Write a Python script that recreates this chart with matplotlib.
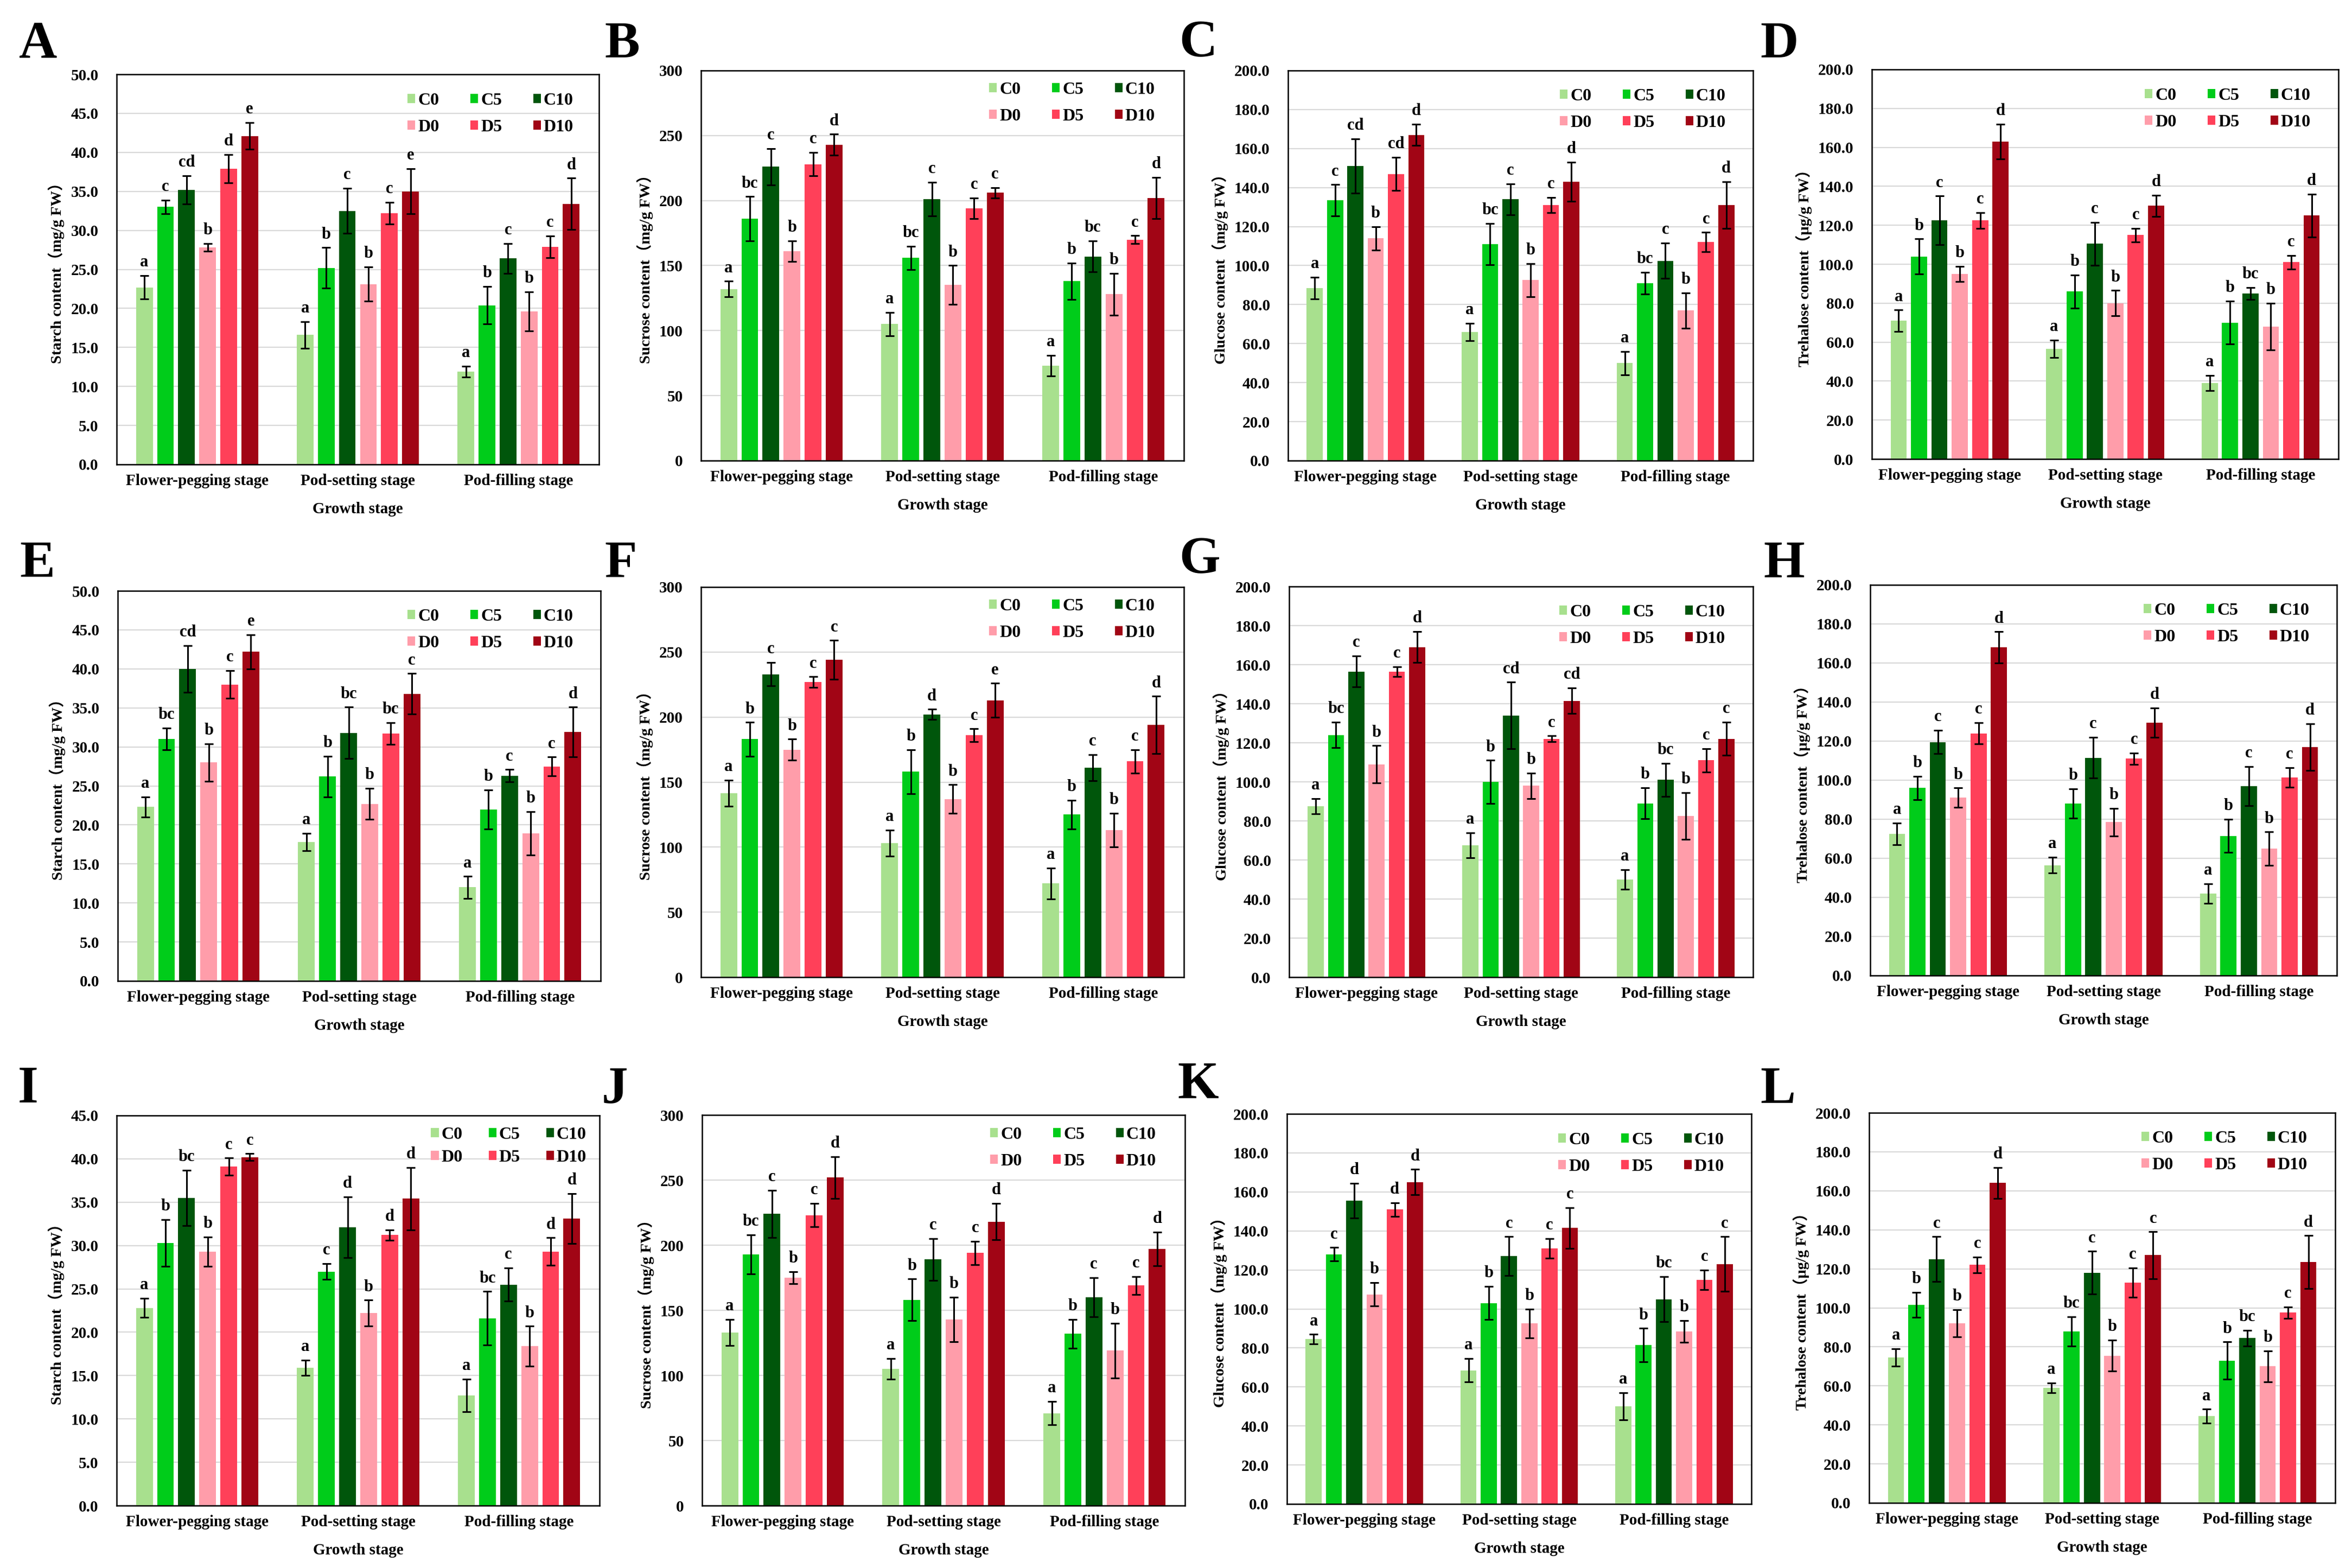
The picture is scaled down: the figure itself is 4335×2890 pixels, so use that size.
import numpy as np
import matplotlib.pyplot as plt
from matplotlib.patches import Patch

## param
W, H, DPI = 4335, 2890, 100

stages = ["Flower-pegging stage", "Pod-setting stage", "Pod-filling stage"]
treatments = ["C0", "C5", "C10", "D0", "D5", "D10"]
colors = ["#a8e08e", "#00cc1a", "#00560b", "#ff9daa", "#ff4059", "#a10515"]

label_starch = "Starch content（mg/g FW）"
label_sucrose = "Sucrose content（mg/g FW）"
label_glucose = "Glucose content（mg/g FW）"
label_trehalose = "Trehalose content（μg/g FW）"

# rows = stage, columns = treatment
A_mean = [[22.7, 33.0, 35.2, 27.8, 37.9, 42.1], [16.6, 25.2, 32.5, 23.1, 32.2, 35.0], [11.9, 20.4, 26.4, 19.6, 27.9, 33.4]]
A_err = [[1.5, 0.9, 1.8, 0.5, 1.8, 1.7], [1.7, 2.6, 2.9, 2.2, 1.4, 2.9], [0.7, 2.4, 1.9, 2.5, 1.4, 3.3]]
A_sig = [["a", "c", "cd", "b", "d", "e"], ["a", "b", "c", "b", "c", "e"], ["a", "b", "c", "b", "c", "d"]]

B_mean = [[132, 186, 226, 161, 228, 243], [105, 156, 201, 135, 194, 206], [73, 138, 157, 128, 170, 202]]
B_err = [[6, 17, 14, 8, 9, 8], [9, 9, 13, 15, 8, 4], [8, 14, 12, 16, 3, 16]]
B_sig = [["a", "bc", "c", "b", "c", "d"], ["a", "bc", "c", "b", "c", "c"], ["a", "b", "bc", "b", "c", "d"]]

C_mean = [[88.5, 133.5, 151, 114, 147, 167], [66, 111, 134, 92.5, 131, 143], [50, 91, 102.5, 77, 112, 131]]
C_err = [[5.5, 8, 14, 6, 8.5, 5.5], [4.5, 10.5, 8, 8.5, 4, 10], [6, 5.5, 9, 9, 5, 12]]
C_sig = [["a", "c", "cd", "b", "cd", "d"], ["a", "bc", "c", "b", "c", "d"], ["a", "bc", "c", "b", "c", "d"]]

D_mean = [[71, 104, 122.5, 95, 122.5, 163], [56.5, 86, 110.5, 80, 115, 130], [39, 70, 85, 68, 101, 125]]
D_err = [[5.5, 9, 12.5, 4, 4, 9], [4.5, 8.5, 11, 6.5, 3.5, 5.5], [4, 11, 3, 12, 3.5, 11]]
D_sig = [["a", "b", "c", "b", "c", "d"], ["a", "b", "c", "b", "c", "d"], ["a", "b", "bc", "b", "c", "d"]]

E_mean = [[22.3, 31.0, 40.0, 28.0, 38.0, 42.2], [17.8, 26.2, 31.8, 22.7, 31.7, 36.8], [12.0, 22.0, 26.3, 18.9, 27.5, 31.9]]
E_err = [[1.3, 1.4, 3.0, 2.4, 1.8, 2.2], [1.1, 2.6, 3.3, 2.0, 1.4, 2.6], [1.4, 2.5, 0.8, 2.8, 1.2, 3.2]]
E_sig = [["a", "bc", "cd", "b", "c", "e"], ["a", "b", "bc", "b", "bc", "c"], ["a", "b", "c", "b", "c", "d"]]

F_mean = [[141.5, 183, 233, 175, 227, 244], [103, 158, 202, 137, 186, 213], [72, 125, 161, 113, 166, 194]]
F_err = [[10, 13, 9, 8, 4, 15], [10, 17, 4, 11, 5, 13], [12, 11, 10, 13, 9, 22]]
F_sig = [["a", "b", "c", "b", "c", "c"], ["a", "b", "d", "b", "c", "e"], ["a", "b", "c", "b", "c", "d"]]

G_mean = [[87.5, 124, 156.5, 109, 156.5, 169], [67.5, 100, 134, 98, 122, 141.5], [50, 89, 101, 82.5, 111, 122]]
G_err = [[4, 6.5, 8, 9.5, 2.5, 8], [6.5, 11, 17, 6.5, 1.5, 6.5], [5, 8, 8.5, 12, 6, 8.5]]
G_sig = [["a", "bc", "c", "b", "c", "d"], ["a", "b", "cd", "b", "c", "cd"], ["a", "b", "bc", "b", "c", "c"]]

H_mean = [[72.5, 96, 119.5, 91, 124, 168], [56.5, 88, 111.5, 78.5, 111, 129.5], [42, 71.5, 97, 65, 101.5, 117]]
H_err = [[5.5, 6, 6, 5, 5.5, 8], [4, 7.5, 10.5, 7, 3, 7.5], [5, 8.5, 10, 8.5, 5, 12]]
H_sig = [["a", "b", "c", "b", "c", "d"], ["a", "b", "c", "b", "c", "d"], ["a", "b", "c", "b", "c", "d"]]

I_mean = [[22.8, 30.3, 35.5, 29.3, 39.1, 40.2], [15.9, 27.0, 32.1, 22.2, 31.2, 35.4], [12.7, 21.6, 25.5, 18.4, 29.3, 33.1]]
I_err = [[1.1, 2.7, 3.2, 1.7, 1.0, 0.4], [0.9, 0.9, 3.5, 1.5, 0.6, 3.6], [1.9, 3.1, 1.9, 2.3, 1.6, 2.9]]
I_sig = [["a", "b", "bc", "b", "c", "c"], ["a", "c", "d", "b", "d", "d"], ["a", "bc", "c", "b", "d", "d"]]

J_mean = [[133, 193, 224, 175, 223, 252], [105, 158, 189, 143, 194, 218], [71, 132, 160, 119, 169, 197]]
J_err = [[10, 15, 18, 4.5, 9, 16], [8, 16, 16, 17, 9, 14], [9, 11, 15, 21, 7, 13]]
J_sig = [["a", "bc", "c", "b", "c", "d"], ["a", "b", "c", "b", "c", "d"], ["a", "b", "c", "b", "c", "d"]]

K_mean = [[84.5, 128, 155.5, 107.5, 151, 165], [68.5, 103, 127, 92.5, 131, 141.5], [50, 81.5, 105, 88.5, 115, 123]]
K_err = [[2.5, 3.5, 9, 6, 3.5, 6.5], [6, 8.5, 10, 7.5, 5, 10.5], [7, 8.5, 11.5, 5.5, 5, 14]]
K_sig = [["a", "c", "d", "b", "d", "d"], ["a", "b", "c", "b", "c", "c"], ["a", "b", "bc", "b", "c", "c"]]

L_mean = [[74.5, 101.5, 125, 92, 122, 164], [59, 88, 118, 75.5, 113, 127], [44.5, 73, 84.5, 70, 97.5, 123.5]]
L_err = [[4.5, 6.5, 11.5, 7, 4, 8], [2.5, 7.5, 11, 8, 7.5, 12], [3.5, 9.5, 4, 8, 3, 13.5]]
L_sig = [["a", "b", "c", "b", "c", "d"], ["a", "bc", "c", "b", "c", "c"], ["a", "b", "bc", "b", "c", "d"]]

# panel: letter, mean, err, sig, ylabel, ymax, ystep, tick format
panels = [
    ("A", A_mean, A_err, A_sig, label_starch, 50, 5, "%.1f"),
    ("B", B_mean, B_err, B_sig, label_sucrose, 300, 50, "%d"),
    ("C", C_mean, C_err, C_sig, label_glucose, 200, 20, "%.1f"),
    ("D", D_mean, D_err, D_sig, label_trehalose, 200, 20, "%.1f"),
    ("E", E_mean, E_err, E_sig, label_starch, 50, 5, "%.1f"),
    ("F", F_mean, F_err, F_sig, label_sucrose, 300, 50, "%d"),
    ("G", G_mean, G_err, G_sig, label_glucose, 200, 20, "%.1f"),
    ("H", H_mean, H_err, H_sig, label_trehalose, 200, 20, "%.1f"),
    ("I", I_mean, I_err, I_sig, label_starch, 45, 5, "%.1f"),
    ("J", J_mean, J_err, J_sig, label_sucrose, 300, 50, "%d"),
    ("K", K_mean, K_err, K_sig, label_glucose, 200, 20, "%.1f"),
    ("L", L_mean, L_err, L_sig, label_trehalose, 200, 20, "%.1f"),
]

# layout in pixels: axes (left, top, right, bottom), letter (x, y), legend (top off, right off, labelspacing, colspacing)
axes_px = [(215, 137, 1104, 856), (1292, 130, 2182, 849), (2374, 130, 3231, 849), (3450, 128, 4310, 846),
           (217, 1089, 1107, 1808), (1292, 1082, 2182, 1801), (2376, 1081, 3231, 1801), (3447, 1078, 4307, 1798),
           (215, 2056, 1105, 2775), (1294, 2055, 2184, 2775), (2372, 2053, 3228, 2772), (3445, 2051, 4304, 2770)]
letter_px = [(35, 38), (1114, 38), (2173, 36), (3244, 38),
             (36, 996), (1114, 996), (2173, 988), (3250, 996),
             (33, 1964), (1109, 1964), (2170, 1956), (3244, 1964)]
legend_px = [(34, 47, 0.62, 1.8), (21, 53, 0.62, 1.8), (33, 50, 0.62, 1.8), (34, 51, 0.62, 1.8),
             (33, 50, 0.62, 1.8), (21, 53, 0.62, 1.8), (33, 51, 0.62, 1.8), (33, 50, 0.62, 1.8),
             (21, 24, 0.40, 1.5), (22, 53, 0.62, 1.8), (34, 50, 0.62, 1.8), (33, 51, 0.62, 1.8)]

pitch = 0.131
bar_w = 0.104

plt.rcParams['font.family'] = ['Liberation Serif', 'Noto Sans CJK SC']
plt.rcParams['font.weight'] = 'bold'


## function
def draw_panel(fig, spec, rect, letter_pos, leg):
    letter, mean, err, sig, ylabel, ymax, ystep, fmt = spec
    mean = np.array(mean, dtype=float)
    err = np.array(err, dtype=float)
    l, t, r, b = rect
    ax = fig.add_axes([l / W, 1 - b / H, (r - l) / W, (b - t) / H])
    ax.set_axisbelow(True)
    ax.yaxis.grid(True, color="#d9d9d9", linewidth=1.6)

    for j in range(len(treatments)):
        x = np.arange(len(stages)) + (j - 2.5) * pitch
        ax.bar(x, mean[:, j], width=bar_w, color=colors[j], label=treatments[j], zorder=2)
        ax.errorbar(x, mean[:, j], yerr=err[:, j], fmt="none", ecolor="black",
                    elinewidth=2.2, capsize=6, capthick=2.2, zorder=3)
        for i in range(len(stages)):
            ax.annotate(sig[i][j], (x[i], mean[i, j] + err[i, j]), xytext=(0, 7),
                        textcoords="offset points", ha="center", va="bottom",
                        fontsize=22, fontweight="bold")

    ax.set_xlim(-0.5, 2.5)
    ax.set_ylim(0, ymax)
    ticks = np.arange(0, ymax + ystep / 2, ystep)
    ax.set_yticks(ticks)
    ax.set_yticklabels([fmt % v for v in ticks])
    ax.set_xticks(np.arange(len(stages)))
    ax.set_xticklabels(stages)
    ax.tick_params(axis="both", length=0, labelsize=21)
    ax.tick_params(axis="y", pad=24)
    ax.tick_params(axis="x", pad=12)
    for s in ax.spines.values():
        s.set_linewidth(1.8)
        s.set_color("black")
    ax.set_ylabel(ylabel, fontsize=20.5, fontweight="bold", labelpad=8)
    ax.set_xlabel("Growth stage", fontsize=21, fontweight="bold", labelpad=18)

    # legend: C row on top, D row below
    order = [0, 3, 1, 4, 2, 5]
    handles = [Patch(facecolor=colors[k], edgecolor="none") for k in order]
    labels = [treatments[k] for k in order]
    top_off, right_off, lsp, csp = leg
    w_px, h_px = r - l, b - t
    ax.legend(handles, labels, ncol=3, loc="upper right", frameon=False,
              bbox_to_anchor=(1 - right_off / w_px, 1 - top_off / h_px),
              borderaxespad=0, borderpad=0, fontsize=23, handlelength=0.45,
              handleheight=0.45, handletextpad=0.15, labelspacing=lsp, columnspacing=csp)

    fig.text(letter_pos[0] / W, 1 - letter_pos[1] / H, letter, fontsize=70,
             fontweight="bold", ha="left", va="top")
    return ax


## main
fig = plt.figure(figsize=(W / DPI, H / DPI), dpi=DPI)
for k in range(len(panels)):
    draw_panel(fig, panels[k], axes_px[k], letter_px[k], legend_px[k])
fig.savefig("out.png", dpi=DPI, facecolor="white")
